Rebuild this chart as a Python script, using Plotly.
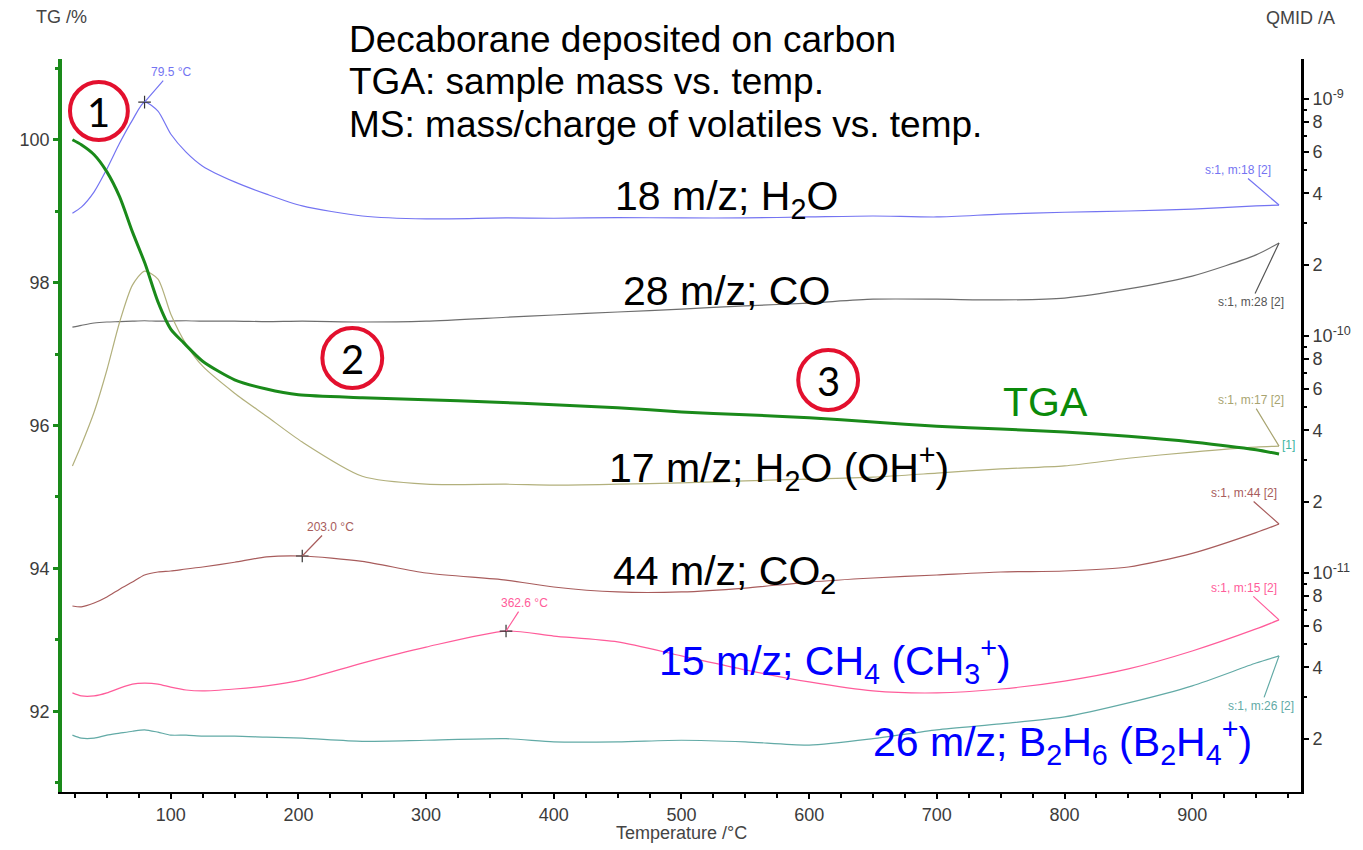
import numpy as np
import plotly.graph_objects as go

# ---------------- data ----------------
temp_ms = [23, 30, 40, 50, 60, 70, 79.5, 90, 100, 112, 125, 150, 175, 203, 250, 300, 362.6,
           400, 450, 500, 550, 600, 650, 700, 750, 800, 850, 900, 950, 968]

m18 = [3.30e-10, 3.50e-10, 4.06e-10, 5.07e-10, 6.52e-10, 8.15e-10, 9.71e-10, 8.89e-10, 7.12e-10,
       5.97e-10, 5.21e-10, 4.47e-10, 3.97e-10, 3.54e-10, 3.21e-10, 3.12e-10, 3.15e-10, 3.14e-10,
       3.16e-10, 3.15e-10, 3.15e-10, 3.18e-10, 3.21e-10, 3.18e-10, 3.27e-10, 3.33e-10, 3.37e-10,
       3.43e-10, 3.54e-10, 3.57e-10]
m28 = [1.09e-10, 1.11e-10, 1.135e-10, 1.146e-10, 1.15e-10, 1.156e-10, 1.16e-10, 1.155e-10, 1.156e-10,
       1.16e-10, 1.155e-10, 1.156e-10, 1.15e-10, 1.156e-10, 1.146e-10, 1.156e-10, 1.20e-10, 1.227e-10,
       1.263e-10, 1.30e-10, 1.34e-10, 1.378e-10, 1.43e-10, 1.43e-10, 1.42e-10, 1.446e-10, 1.58e-10,
       1.79e-10, 2.20e-10, 2.47e-10]
m17 = [2.83e-11, 3.47e-11, 4.78e-11, 7.19e-11, 1.146e-10, 1.64e-10, 1.88e-10, 1.74e-10, 1.24e-10,
       9.25e-11, 7.46e-11, 5.74e-11, 4.59e-11, 3.57e-11, 2.56e-11, 2.37e-11, 2.37e-11, 2.35e-11,
       2.37e-11, 2.40e-11, 2.45e-11, 2.49e-11, 2.54e-11, 2.64e-11, 2.75e-11, 2.83e-11, 3.05e-11,
       3.24e-11, 3.40e-11, 3.43e-11]
m44 = [7.26e-12, 7.20e-12, 7.47e-12, 7.92e-12, 8.55e-12, 9.16e-12, 9.81e-12, 1.01e-11, 1.02e-11,
       1.04e-11, 1.06e-11, 1.11e-11, 1.17e-11, 1.18e-11, 1.12e-11, 1.00e-11, 9.34e-12, 8.73e-12,
       8.32e-12, 8.32e-12, 8.64e-12, 9.16e-12, 9.53e-12, 9.81e-12, 1.01e-11, 1.02e-11, 1.06e-11,
       1.21e-11, 1.48e-11, 1.61e-11]
m15 = [3.12e-12, 3.03e-12, 3.03e-12, 3.12e-12, 3.27e-12, 3.40e-12, 3.43e-12, 3.40e-12, 3.30e-12,
       3.21e-12, 3.18e-12, 3.24e-12, 3.34e-12, 3.54e-12, 4.17e-12, 4.87e-12, 5.69e-12, 5.42e-12,
       5.12e-12, 4.47e-12, 3.90e-12, 3.47e-12, 3.18e-12, 3.12e-12, 3.24e-12, 3.50e-12, 3.94e-12,
       4.69e-12, 5.81e-12, 6.34e-12]
m26 = [2.07e-12, 2.01e-12, 2.01e-12, 2.07e-12, 2.11e-12, 2.15e-12, 2.18e-12, 2.13e-12, 2.07e-12,
       2.07e-12, 2.05e-12, 2.05e-12, 2.03e-12, 2.01e-12, 1.95e-12, 1.97e-12, 2.00e-12, 1.94e-12,
       1.94e-12, 1.97e-12, 1.94e-12, 1.88e-12, 2.00e-12, 2.18e-12, 2.31e-12, 2.47e-12, 2.83e-12,
       3.34e-12, 4.17e-12, 4.47e-12]

temp_tg = [23, 30, 40, 50, 60, 70, 80, 90, 100, 110, 125, 150, 175, 200, 250, 300, 350, 400, 450,
           500, 550, 600, 650, 700, 750, 800, 850, 900, 950, 968]
tg = [100.0, 99.93, 99.79, 99.55, 99.20, 98.71, 98.26, 97.73, 97.35, 97.16, 96.90, 96.64, 96.51,
      96.43, 96.39, 96.36, 96.33, 96.29, 96.25, 96.19, 96.15, 96.11, 96.05, 95.99, 95.95, 95.91,
      95.85, 95.77, 95.66, 95.60]

x_ticks = [100, 200, 300, 400, 500, 600, 700, 800, 900]
tg_ticks = [92, 94, 96, 98, 100]
tg_minor = [91, 93, 95, 97, 99, 101]
ms_ticks = [1e-9, 8e-10, 6e-10, 4e-10, 2e-10, 1e-10, 8e-11, 6e-11, 4e-11, 2e-11,
            1e-11, 8e-12, 6e-12, 4e-12, 2e-12]
ms_ticktext = ["10<sup>-9</sup>", "8", "6", "4", "2", "10<sup>-10</sup>", "8", "6", "4", "2",
               "10<sup>-11</sup>", "8", "6", "4", "2"]
ms_minor = [9e-10, 7e-10, 5e-10, 3e-10, 9e-11, 7e-11, 5e-11, 3e-11, 9e-12, 7e-12, 5e-12, 3e-12]

# ---------------- styling ----------------
FONT = "Liberation Sans"
C18, C28, C17, C44, C15, C26 = "#7474f2", "#6e6e6e", "#b2b07c", "#a85c5c", "#ff5c9a", "#62aaa6"
CTG = "#1a8a1a"

W, H = 1363, 850
L, R, T, B = 62, 1304, 59, 792


def px(x):
    return (x - L) / (R - L)


def py(y):
    return (B - y) / (B - T)


fig = go.Figure()
for vals, col in [(m18, C18), (m28, C28), (m17, C17), (m44, C44), (m15, C15), (m26, C26)]:
    fig.add_trace(go.Scatter(x=temp_ms, y=vals, mode="lines", yaxis="y",
                             line=dict(color=col, width=1.2, shape="spline", smoothing=0.7),
                             hoverinfo="skip", showlegend=False))

# peak markers
fig.add_trace(go.Scatter(x=[temp_ms[6], temp_ms[13], temp_ms[16]], y=[m18[6], m44[13], m15[16]],
                         mode="markers", yaxis="y",
                         marker=dict(symbol="cross-thin", size=9, line=dict(color="#333", width=1.2)),
                         hoverinfo="skip", showlegend=False))

fig.add_trace(go.Scatter(x=temp_tg, y=tg, mode="lines", yaxis="y2",
                         line=dict(color=CTG, width=3, shape="spline", smoothing=0.7),
                         hoverinfo="skip", showlegend=False))

ann = []


def label(x, y, text, size, color="black", xanchor="center", family=FONT):
    ann.append(dict(x=px(x), y=py(y), xref="paper", yref="paper", text=text, showarrow=False,
                    xanchor=xanchor, yanchor="middle", font=dict(family=family, size=size, color=color)))


# titles
label(348, 40, "Decaborane deposited on carbon", 37, xanchor="left")
label(348, 82, "TGA: sample mass vs. temp.", 37, xanchor="left")
label(348, 125, "MS: mass/charge of volatiles vs. temp.", 37, xanchor="left")

# curve labels
label(728, 199, "18 m/z; H<sub>2</sub>O", 41)
label(728, 291, "28 m/z; CO", 41)
label(608, 468, "17 m/z; H<sub>2</sub>O (OH<sup>+</sup>)", 41, xanchor="left")
label(612, 574, "44 m/z; CO<sub>2</sub>", 41, xanchor="left")
label(658, 661, "15 m/z; CH<sub>4</sub> (CH<sub>3</sub><sup>+</sup>)", 41, color="#0000ff", xanchor="left")
label(873, 742, "26 m/z; B<sub>2</sub>H<sub>6</sub> (B<sub>2</sub>H<sub>4</sub><sup>+</sup>)", 41,
      color="#0000ff", xanchor="left")
label(1003, 402, "TGA", 41, color="#0a8a0a", xanchor="left")

# axis titles
label(61, 17, "TG /%", 18, color="#444")
label(1303, 18, "QMID /A", 18, color="#444")
label(683, 833, "Temperature /°C", 18, color="#444")
label(1283, 445, "[1]", 12, color="#3cb4a0", xanchor="left")

# circled numbers
shapes = []
for cx, cy, r, num in [(99, 111, 29, "1"), (353, 358, 30, "2"), (830, 380, 30, "3")]:
    shapes.append(dict(type="circle", xref="paper", yref="paper",
                       x0=px(cx - r), x1=px(cx + r), y0=py(cy + r), y1=py(cy - r),
                       line=dict(color="#e3102e", width=4)))
    label(cx, cy + 1, num, 40, family="Lato")


# leader-line annotations
def lead(x, yval, text, color, ax, ay):
    ann.append(dict(x=x, y=float(np.log10(yval)), xref="x", yref="y", text=text, showarrow=True,
                    arrowhead=0, arrowwidth=1.2, arrowcolor=color, ax=ax, ay=ay, standoff=0,
                    font=dict(family=FONT, size=12, color=color)))


lead(temp_ms[6], m18[6], "79.5 °C", C18, 26, -30)
lead(temp_ms[13], m44[13], "203.0 °C", C44, 28, -29)
lead(temp_ms[16], m15[16], "362.6 °C", C15, 18, -28)
lead(temp_ms[-1], m18[-1], "s:1, m:18 [2]", C18, -41, -35)
lead(temp_ms[-1], m28[-1], "s:1, m:28 [2]", "#555", -28, 59)
lead(temp_ms[-1], m17[-1], "s:1, m:17 [2]", "#a8a470", -28, -46)
lead(temp_ms[-1], m44[-1], "s:1, m:44 [2]", C44, -35, -31)
lead(temp_ms[-1], m15[-1], "s:1, m:15 [2]", C15, -35, -32)
lead(temp_ms[-1], m26[-1], "s:1, m:26 [2]", C26, -18, 50)

tickfont = dict(family=FONT, size=18, color="#3c3c3c")

fig.update_layout(
    width=W, height=H,
    margin=dict(l=L, r=W - R, t=T, b=H - B, pad=0),
    paper_bgcolor="white", plot_bgcolor="white",
    showlegend=False,
    annotations=ann, shapes=shapes,
    xaxis=dict(range=[14.84, 985.2], showline=True, linecolor="black", linewidth=2,
               ticks="outside", ticklen=5, tickwidth=1.5, tickcolor="black",
               tickmode="array", tickvals=x_ticks, tickfont=tickfont,
               minor=dict(dtick=25, tick0=0, ticks="outside", ticklen=4, tickwidth=1.5, tickcolor="black",
                          showgrid=False),
               showgrid=False, zeroline=False, mirror=False),
    yaxis=dict(type="log", side="right", range=[-11.924, -8.831],
               showline=True, linecolor="black", linewidth=3,
               ticks="outside", ticklen=5, tickwidth=2, tickcolor="black",
               tickmode="array", tickvals=ms_ticks, ticktext=ms_ticktext, tickfont=tickfont,
               minor=dict(tickmode="array", tickvals=ms_minor, ticks="outside", ticklen=3, tickwidth=1.5,
                          tickcolor="black", showgrid=False),
               showgrid=False, zeroline=False),
    yaxis2=dict(overlaying="y", side="left", range=[90.87, 101.13],
                showline=True, linecolor=CTG, linewidth=3.5,
                ticks="outside", ticklen=5, tickwidth=2.5, tickcolor=CTG,
                tickmode="array", tickvals=tg_ticks, tickfont=tickfont,
                minor=dict(tickmode="array", tickvals=tg_minor, ticks="outside", ticklen=3, tickwidth=2.5,
                           tickcolor=CTG, showgrid=False),
                showgrid=False, zeroline=False),
)

fig.write_html("out.html")
